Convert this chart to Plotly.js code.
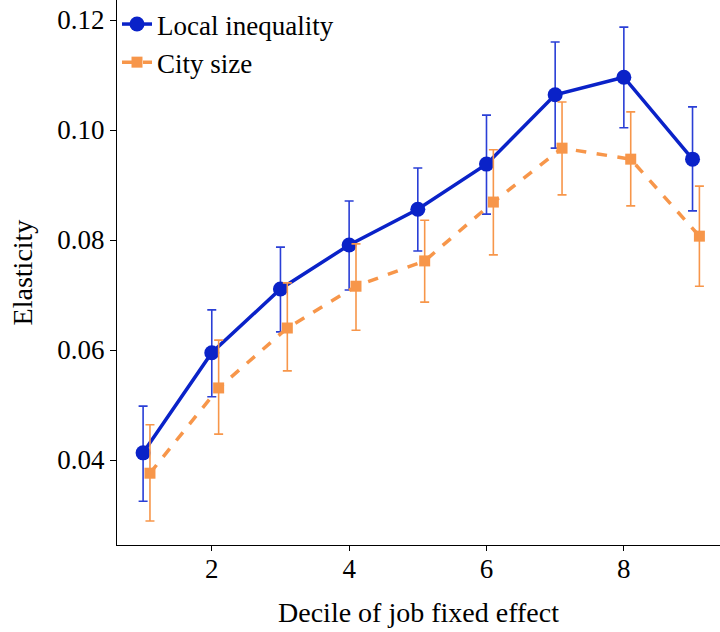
<!DOCTYPE html>
<html><head><meta charset="utf-8">
<script src="https://cdn.plot.ly/plotly-3.0.1.min.js"></script>
<style>body{margin:0}#chart{width:720px;height:632px}</style>
</head><body><div id="chart"></div>
<script>
const deciles = [1,2,3,4,5,6,7,8,9];
const ineqVals = [0.0413,0.0595,0.0711,0.0791,0.0856,0.0938,0.1064,0.1096,0.0947];
const ineqHi   = [0.0498,0.0673,0.0787,0.0871,0.0931,0.1027,0.1160,0.1187,0.1042];
const ineqLo   = [0.0325,0.0515,0.0633,0.0709,0.0780,0.0847,0.0967,0.1004,0.0853];
const sizeVals = [0.0376,0.0531,0.0640,0.0716,0.0762,0.0869,0.0967,0.0947,0.0807];
const sizeHi   = [0.0464,0.0618,0.0722,0.0793,0.0836,0.0964,0.1051,0.1033,0.0898];
const sizeLo   = [0.0289,0.0447,0.0562,0.0636,0.0687,0.0773,0.0882,0.0862,0.0716];
const sizeOffset = 0.1;
const yTicks = [0.04,0.06,0.08,0.10,0.12];
const xTicks = [2,4,6,8];

const blue = '#0a22c8', orange = '#f7964a';
const traces = [
  {x: deciles, y: ineqVals, name: 'Local inequality', type: 'scatter', mode: 'lines+markers',
   line: {color: blue, width: 3.5}, marker: {color: blue, size: 15, symbol: 'circle'},
   error_y: {type: 'data', symmetric: false,
     array: ineqHi.map((h,i)=>h-ineqVals[i]), arrayminus: ineqVals.map((v,i)=>v-ineqLo[i]),
     color: '#2a3fd6', thickness: 1.6, width: 4.5}},
  {x: deciles.map(d=>d+sizeOffset), y: sizeVals, name: 'City size', type: 'scatter', mode: 'lines+markers',
   line: {color: orange, width: 3.5, dash: 'dash'}, marker: {color: orange, size: 11, symbol: 'square'},
   error_y: {type: 'data', symmetric: false,
     array: sizeHi.map((h,i)=>h-sizeVals[i]), arrayminus: sizeVals.map((v,i)=>v-sizeLo[i]),
     color: orange, thickness: 1.6, width: 4.5}}
];
const font = {family: 'Liberation Serif, Times New Roman, serif', color: '#000'};
const layout = {
  width: 720, height: 632,
  margin: {l: 117, r: 0, t: 0, b: 87},
  paper_bgcolor: '#fff', plot_bgcolor: '#fff',
  font: Object.assign({size: 27}, font),
  showlegend: true,
  legend: {x: 0.0, y: 1.0, xanchor: 'left', yanchor: 'top', bgcolor: 'rgba(0,0,0,0)',
    font: Object.assign({size: 27}, font), itemwidth: 30, tracegroupgap: 0},
  xaxis: {range: [0.62, 9.4], tickvals: xTicks, ticktext: xTicks.map(String),
    showgrid: false, zeroline: false, showline: true, linecolor: '#000', linewidth: 1,
    ticks: 'outside', ticklen: 5, tickcolor: '#000', tickfont: Object.assign({size: 27}, font),
    ticklabelstandoff: -5,
    title: {text: 'Decile of job fixed effect', font: Object.assign({size: 28}, font), standoff: 18}},
  yaxis: {range: [0.024545, 0.12364], tickvals: yTicks, ticktext: yTicks.map(v=>v.toFixed(2)),
    showgrid: false, zeroline: false, showline: true, linecolor: '#000', linewidth: 1,
    ticks: 'outside', ticklen: 6, tickcolor: '#000', tickfont: Object.assign({size: 27}, font),
    title: {text: 'Elasticity', font: Object.assign({size: 28}, font), standoff: 16}}
};
Plotly.newPlot('chart', traces, layout, {displayModeBar: false, staticPlot: true});
</script></body></html>
